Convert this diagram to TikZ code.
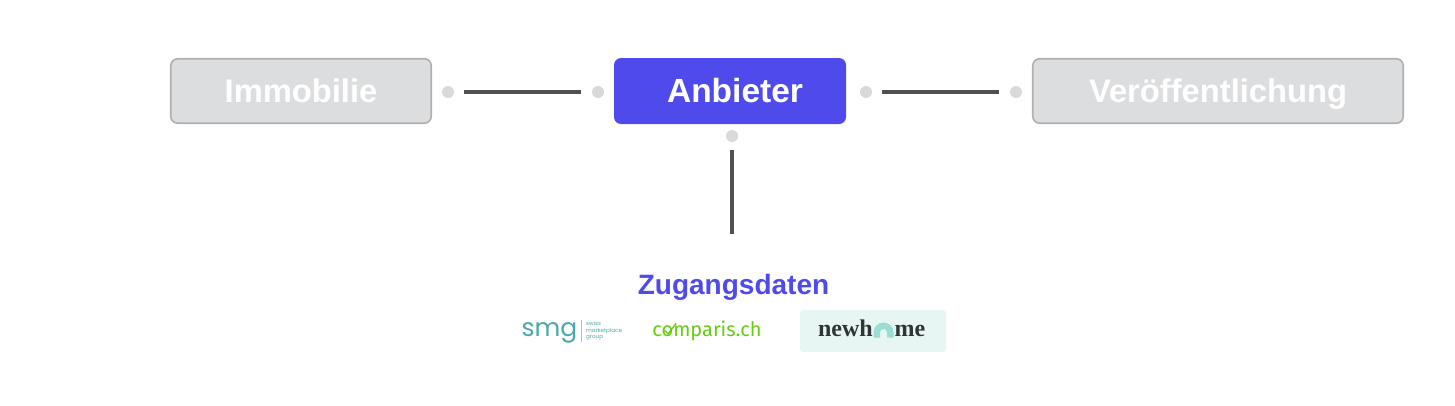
\documentclass[tikz,border=0pt]{standalone}
\usepackage{fontspec}
\setmainfont{Liberation Sans}
\newfontfamily\logosans{Fira Sans}
\newfontfamily\logoround{Poppins}
\newfontfamily\logoserif{Liberation Serif}
\definecolor{boxgrey}{HTML}{DCDDDF}
\definecolor{boxline}{HTML}{B0B0B0}
\definecolor{accent}{HTML}{4F4AEC}
\definecolor{dotgrey}{HTML}{D9D9D9}
\definecolor{linegrey}{HTML}{505050}
\definecolor{smgteal}{HTML}{4AA8A8}
\definecolor{compgreen}{HTML}{66CC11}
\definecolor{newbg}{HTML}{E8F6F3}
\definecolor{newarch}{HTML}{9ADDD2}
\definecolor{newtext}{HTML}{2E3534}
\begin{document}
\begin{tikzpicture}[x=1pt,y=-1pt]
\tikzstyle{inactive}=[draw=boxline,line width=1.6pt,fill=boxgrey,rounded corners=7pt,minimum height=64.5pt,inner sep=0pt,text=white,text height=23pt,text depth=0pt,font=\fontsize{32.7}{36}\selectfont\bfseries]
\tikzstyle{active}=[fill=accent,rounded corners=7pt,minimum height=66pt,inner sep=0pt,text=white,text height=23pt,text depth=0pt,font=\fontsize{33.5}{36}\selectfont\bfseries]
\tikzstyle{dot}=[circle,fill=dotgrey,minimum size=12pt,inner sep=0pt]
\tikzstyle{link}=[draw=linegrey,line width=4pt,-]
\useasboundingbox (0,0) rectangle (1455,405);
\node[inactive,minimum width=260.5pt] (immo) at (301,91) {Immobilie};
\node[active,minimum width=232pt] (anb) at (730,91) {\hspace*{10pt}Anbieter};
\node[inactive,minimum width=370.5pt] (veroeff) at (1218,91) {Veröffentlichung};
\node[dot] (d1) at (448,92) {};
\node[dot] (d2) at (598,92) {};
\node[dot] (d3) at (866,92) {};
\node[dot] (d4) at (1016,92) {};
\node[dot] (d5) at (732,136) {};
\coordinate (acc) at (732,234);
\path[link,shorten <=10pt,shorten >=11pt] (d1) -- (d2);
\path[link,shorten <=10pt,shorten >=11pt] (d3) -- (d4);
\path[link,shorten <=8pt] (d5) -- (acc);
\node[text=accent,inner sep=0pt,anchor=base,font=\fontsize{28}{30}\selectfont\bfseries] (zug) at (733.5,294) {Zugangsdaten};
% logos
\node[text=smgteal,inner sep=0pt,anchor=base,font=\logoround\fontsize{25}{27}\selectfont] (smg) at (549.5,336) {smg};
\draw[smgteal!60,line width=.7pt] (581.5,320) -- (581.5,342);
\node[text=smgteal,inner sep=0pt,align=left,anchor=west,font=\logoround\fontsize{5.6}{6.6}\selectfont] (smgtxt) at (586,331) {swiss\\marketplace\\group};
\node[text=compgreen,inner sep=0pt,anchor=base,font=\logosans\fontsize{20}{23}\selectfont] (comp) at (707,336.5) {comparis.ch};
\draw[compgreen,line width=1.3pt,line cap=round] (665,330.5) -- (668,334) -- (676,323.5);
\node[fill=newbg,rounded corners=3pt,minimum width=146pt,minimum height=42pt,inner sep=0pt] (newbox) at (873,331) {};
\node[text=newtext,inner sep=0pt,anchor=base east,font=\logoserif\fontsize{24}{24}\selectfont\bfseries] (newh) at (873,336.7) {newh};
\fill[newarch] (873.5,337.5) -- (873.5,332.5) arc[start angle=180,end angle=0,radius=10pt] -- (893.5,337.5) -- (887,337.5) -- (887,332.5) arc[start angle=0,end angle=180,radius=3.5pt] -- (880,337.5) -- cycle;
\node[text=newtext,inner sep=0pt,anchor=base west,font=\logoserif\fontsize{24}{24}\selectfont\bfseries] (me) at (894.5,336.7) {me};
\end{tikzpicture}
\end{document}
